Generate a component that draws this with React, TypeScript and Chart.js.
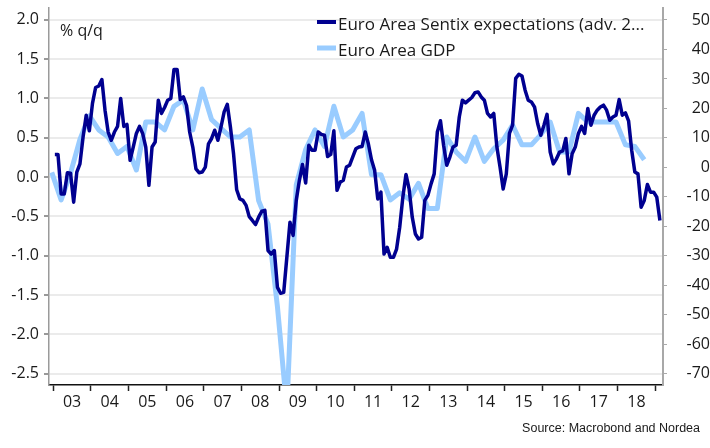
import React, { useEffect, useRef } from 'react';
import { Chart, registerables } from 'chart.js';

Chart.register(...registerables);

// ---- Data ----
// Sentix expectations (advanced), monthly, starting Jan 2003
const sentixStartYear = 2003;
const sentixValues = [
  4.4, 4.4, -9, -9, -1.8, -2, -11.8, -1.6, 1.2, 10.3, 17.7, 12.4,
  21.7, 27.1, 27.6, 29.8, 19.4, 12, 9.2, 12, 13.9, 23.4, 13.9, 14.6,
  2.4, 6.9, 11.5, 13.9, 11.5, 6.9, -6.1, 6.9, 8.6, 22.8, 18.3, 20.3,
  22.8, 23.4, 33.2, 33.2, 23, 23.9, 21, 12, 6.9, -0.5, -1.8, -1.6,
  0.1, 8, 9.8, 12.6, 9.2, 13.7, 18.8, 21.4, 13.7, 4.6, -7.6, -10.7,
  -11.2, -12.9, -16.7, -18, -19.4, -16.9, -14.9, -14.6, -28.2, -29.4, -28.2, -40.7,
  -42.7, -42.4, -30.5, -18.6, -23.1, -11.2, -4.4, 1, -5.3, 7.5, 5.8, 5.8,
  12, 11.2, 10.9, 3.7, 4.4, 12.4, -7.8, -5, -4.4, 0.1, 0.7, 3.5,
  6.3, 6.9, 7.1, 12, 8, 2.6, -1, -10.7, -8.4, -29.4, -27.1, -30.5,
  -30.5, -27.7, -20.3, -10.1, -2.4, -7.3, -16.9, -22.6, -24.3, -23.7, -11.2, -9.5,
  -5.6, -2.2, 12, 15.8, 7.5, 0.7, 3.5, 6.9, 7.5, 17.1, 22.8, 21.9,
  22.8, 23.7, 25.3, 25.6, 23.9, 22.8, 18.3, 17.1, 18.3, 6.9, 0.1, -7.3,
  -2.2, 11.5, 14.3, 30.2, 31.6, 31, 26.2, 22.8, 22.2, 20.5, 14.9, 10.9,
  14.3, 18, 5.2, 1.2, 2.9, 5.2, 5.6, 9.8, -2.2, 4.6, 6.9, 11.5,
  13.9, 11.5, 20, 14.3, 17.7, 19.4, 20.5, 21.1, 19.4, 16, 17.1, 17.7,
  23, 17.7, 18.5, 15.8, 5.8, -1.6, -2.2, -13.5, -11.2, -5.8, -8.4, -8.4,
  -10.1, -18,
];

// Euro Area GDP % q/q, quarterly, starting 2002 Q4
const gdpStartYear = 2002;
const gdpStartQuarter = 4;
const gdpValues = [
  0.06,
  -0.29, 0.05, 0.48, 0.78,
  0.6, 0.51, 0.3, 0.39,
  0.09, 0.7, 0.7, 0.6,
  0.9, 0.98, 0.6, 1.12,
  0.73, 0.62, 0.51, 0.51,
  0.6, -0.3, -0.6, -1.65,
  -2.95, -0.1, 0.35, 0.6,
  0.39, 0.9, 0.51, 0.6,
  0.81, 0.03, 0.03, -0.29,
  -0.2, -0.28, -0.08, -0.4,
  -0.4, 0.51, 0.32, 0.2,
  0.51, 0.2, 0.36, 0.47,
  0.66, 0.41, 0.41, 0.54,
  0.7, 0.32, 0.32, 0.81,
  0.7, 0.7, 0.7, 0.7,
  0.41, 0.39, 0.22,
];

const yearTickValues = [2003, 2004, 2005, 2006, 2007, 2008, 2009, 2010, 2011, 2012, 2013, 2014, 2015, 2016, 2017, 2018, 2019];
const yearLabels = ['03', '04', '05', '06', '07', '08', '09', '10', '11', '12', '13', '14', '15', '16', '17', '18'];
const leftTicks = [2.0, 1.5, 1.0, 0.5, 0.0, -0.5, -1.0, -1.5, -2.0, -2.5];
const rightTicks = [50, 40, 30, 20, 10, 0, -10, -20, -30, -40, -50, -60, -70];
const seriesNames = ['Euro Area Sentix expectations (adv. 2...', 'Euro Area GDP'];
const unitLabel = '% q/q';
const sourceText = 'Source: Macrobond and Nordea';

const FONT = "'Open Sans', 'Noto Sans', 'DejaVu Sans', sans-serif";
const TEXT = '#1a1a1a';
const DARK = '#000090';
const LIGHT = '#99CCFF';

const overlay = {
  id: 'overlay',
  afterDraw(chart: any) {
    const ctx = chart.ctx;
    const ca = chart.chartArea;
    ctx.save();
    ctx.fillStyle = TEXT;
    ctx.font = `16px ${FONT}`;
    ctx.textAlign = 'left';
    ctx.textBaseline = 'alphabetic';
    ctx.fillText(unitLabel, ca.left + 11, ca.top + 28);

    const lx = 317;
    const rows = [22, 48];
    ctx.font = `17px ${FONT}`;
    chart.data.datasets.forEach((ds: any, i: number) => {
      ctx.strokeStyle = ds.borderColor;
      ctx.lineWidth = i === 0 ? 4 : 5;
      ctx.lineCap = 'butt';
      ctx.beginPath();
      ctx.moveTo(lx, rows[i]);
      ctx.lineTo(lx + 19, rows[i]);
      ctx.stroke();
      ctx.textBaseline = 'middle';
      ctx.fillText(ds.label, lx + 21, rows[i] + 3);
    });

    ctx.font = `12.5px 'Liberation Sans', 'Arial', sans-serif`;
    ctx.textAlign = 'right';
    ctx.textBaseline = 'middle';
    ctx.fillText(sourceText, 700, 429);
    ctx.restore();
  },
};

const zeroPad = (scale: any) => {
  scale.paddingTop = 0;
  scale.paddingBottom = 0;
  scale.paddingLeft = 0;
  scale.paddingRight = 0;
};

export default function App() {
  const ref = useRef<HTMLCanvasElement | null>(null);

  useEffect(() => {
    if (!ref.current) return;
    const sentixData = sentixValues.map((v, i) => ({ x: sentixStartYear + (i + 0.5) / 12, y: v }));
    const gdpData = gdpValues.map((v, i) => {
      const qIndex = gdpStartQuarter - 1 + i;
      const year = gdpStartYear + Math.floor(qIndex / 4);
      const q = (qIndex % 4) + 1;
      return { x: year + (3 * q - 0.5) / 12, y: v };
    });

    const chart = new Chart(ref.current, {
      type: 'line',
      data: {
        datasets: [
          {
            label: seriesNames[0],
            data: sentixData,
            yAxisID: 'yRight',
            borderColor: DARK,
            backgroundColor: DARK,
            borderWidth: 3.5,
            pointRadius: 0,
            tension: 0,
            borderJoinStyle: 'round',
          },
          {
            label: seriesNames[1],
            data: gdpData,
            yAxisID: 'yLeft',
            borderColor: LIGHT,
            backgroundColor: LIGHT,
            borderWidth: 5,
            pointRadius: 0,
            tension: 0,
            borderJoinStyle: 'round',
          },
        ],
      },
      options: {
        animation: false,
        responsive: true,
        maintainAspectRatio: false,
        layout: { padding: { top: 8, left: 0, right: 0, bottom: 0 } },
        plugins: {
          legend: { display: false },
          tooltip: { enabled: false },
        },
        scales: {
          x: {
            type: 'linear',
            min: 2002.886,
            max: 2019.207,
            afterBuildTicks: (scale: any) => {
              scale.ticks = yearTickValues.map((v) => ({ value: v }));
            },
            afterFit: (scale: any) => {
              scale.height = 63;
              zeroPad(scale);
            },
            ticks: {
              autoSkip: false,
              maxRotation: 0,
              minRotation: 0,
              labelOffset: 18.8,
              padding: 2,
              color: TEXT,
              font: { family: FONT, size: 16 },
              callback: (value: any) => {
                const idx = yearTickValues.indexOf(Number(value));
                return idx >= 0 && idx < yearLabels.length ? yearLabels[idx] : '';
              },
            },
            grid: {
              display: true,
              drawOnChartArea: false,
              drawTicks: true,
              tickLength: 6,
              tickColor: '#222',
              tickWidth: 1.5,
            },
            border: { display: true, color: '#111', width: 1.5 },
          },
          yLeft: {
            type: 'linear',
            position: 'left',
            min: -2.644,
            max: 2.15,
            afterBuildTicks: (scale: any) => {
              scale.ticks = leftTicks.map((v) => ({ value: v }));
            },
            afterFit: (scale: any) => {
              scale.width = 49;
              zeroPad(scale);
            },
            ticks: {
              padding: 5,
              color: TEXT,
              font: { family: FONT, size: 16 },
              callback: (value: any) => Number(value).toFixed(1),
            },
            grid: {
              display: true,
              drawOnChartArea: true,
              drawTicks: true,
              tickLength: 5,
              tickColor: '#999',
              color: '#ebebeb',
              lineWidth: 2,
            },
            border: { display: true, color: '#9a9a9a', width: 1.5 },
          },
          yRight: {
            type: 'linear',
            position: 'right',
            min: -73.83,
            max: 54.07,
            afterBuildTicks: (scale: any) => {
              scale.ticks = rightTicks.map((v) => ({ value: v }));
            },
            afterFit: (scale: any) => {
              scale.width = 47;
              zeroPad(scale);
            },
            ticks: {
              padding: 5,
              crossAlign: 'far',
              color: TEXT,
              font: { family: FONT, size: 16 },
              callback: (value: any) => String(value),
            },
            grid: {
              display: true,
              drawOnChartArea: false,
              drawTicks: true,
              tickLength: 4,
              tickColor: '#aaa',
            },
            border: { display: true, color: '#a8a8a8', width: 2 },
          },
        },
      },
      plugins: [overlay],
    });
    return () => chart.destroy();
  }, []);

  return (
    <div style={{ position: 'absolute', left: 0, top: 0, width: 710, height: 448, background: '#fff' }}>
      <canvas ref={ref} />
    </div>
  );
}
